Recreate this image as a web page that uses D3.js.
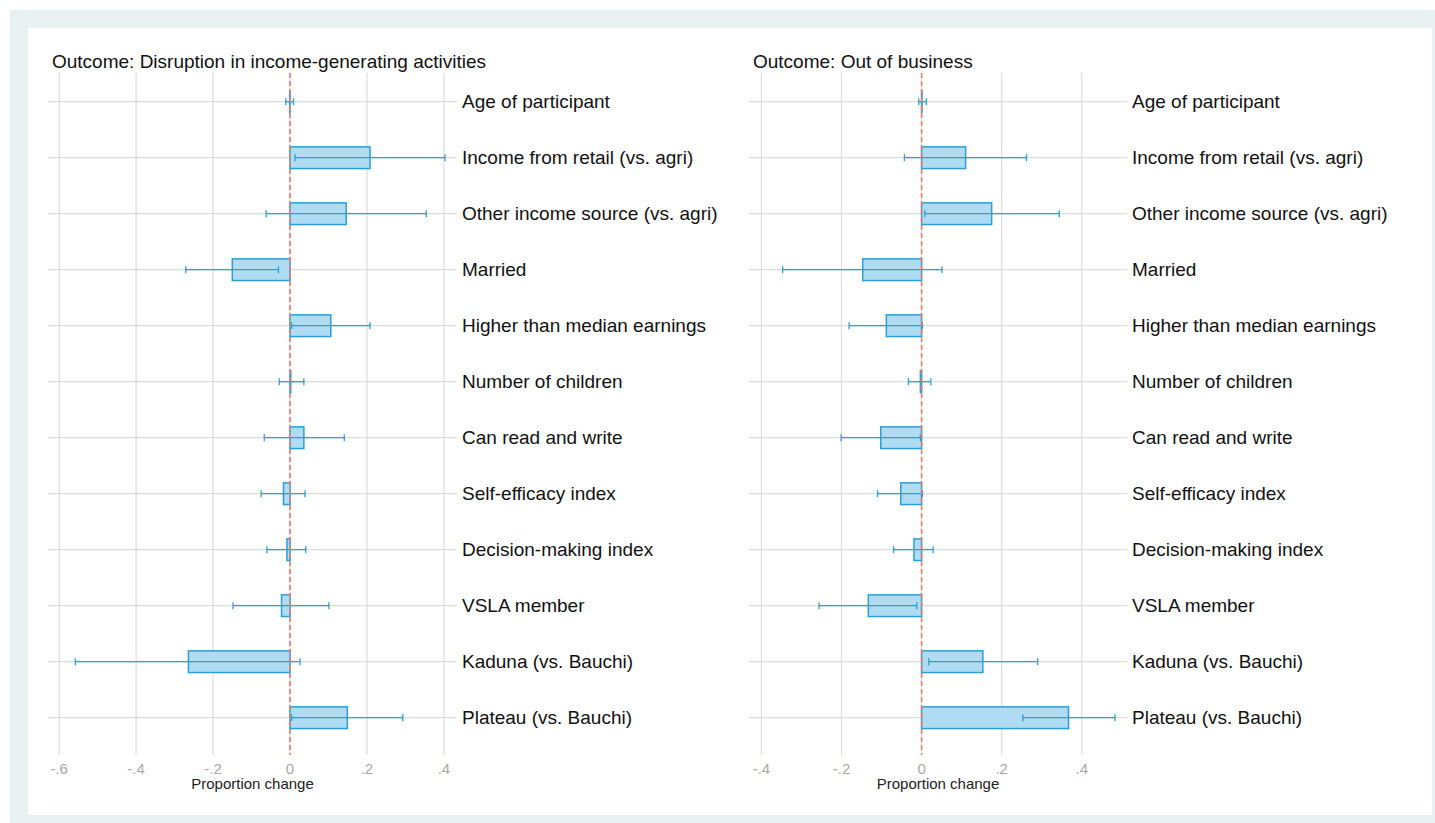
<!DOCTYPE html>
<html>
<meta charset="utf-8">
<script src="https://d3js.org/d3.v7.min.js"></script>
<style>
  body { margin: 0; background: #fff; }
  text { font-family: "Liberation Sans", Arial, sans-serif; }
</style>
<body>
<div id="my_dataviz"></div>
<script>

// row labels, top to bottom
var labels = ["Age of participant", "Income from retail (vs. agri)", "Other income source (vs. agri)",
  "Married", "Higher than median earnings", "Number of children", "Can read and write",
  "Self-efficacy index", "Decision-making index", "VSLA member", "Kaduna (vs. Bauchi)", "Plateau (vs. Bauchi)"];

// panel 1: disruption in income-generating activities
var est1 = [-0.001, 0.208, 0.146, -0.150, 0.106, 0.002, 0.036, -0.017, -0.008, -0.022, -0.264, 0.149];
var lo1  = [-0.011, 0.013, -0.062, -0.271, 0.004, -0.028, -0.067, -0.075, -0.060, -0.148, -0.558, 0.004];
var hi1  = [0.009, 0.403, 0.354, -0.030, 0.208, 0.036, 0.141, 0.039, 0.041, 0.101, 0.026, 0.293];

// panel 2: out of business
var est2 = [0.001, 0.110, 0.175, -0.147, -0.088, -0.003, -0.102, -0.052, -0.019, -0.133, 0.153, 0.367];
var lo2  = [-0.007, -0.043, 0.008, -0.347, -0.181, -0.033, -0.201, -0.110, -0.070, -0.256, 0.018, 0.253];
var hi2  = [0.012, 0.262, 0.344, 0.051, 0.002, 0.023, -0.003, 0.002, 0.029, -0.012, 0.290, 0.483];

var ticks1 = [-0.6, -0.4, -0.2, 0, 0.2, 0.4];
var ticks2 = [-0.4, -0.2, 0, 0.2, 0.4];

var W = 1435, H = 823;
var svg = d3.select("#my_dataviz").append("svg")
  .attr("width", W).attr("height", H);

// frame
svg.append("rect").attr("x", 10).attr("y", 10).attr("width", W - 10).attr("height", H - 10)
  .attr("fill", "#e9f0f2");
svg.append("rect").attr("x", 28).attr("y", 28).attr("width", 1404).attr("height", 787)
  .attr("fill", "#fff");

var y = d3.scalePoint().domain(labels).range([101.7, 717.7]);
var barH = 21.7;
var blue = "#2a9fd8";

// stata style: -.2, 0, .4
function fmt(v) {
  if (v === 0) return "0";
  return (v < 0 ? "-" : "") + Math.abs(v).toFixed(1).replace("0.", ".");
}

function panel(title, est, lo, hi, ticks, domain, range) {
  var x = d3.scaleLinear().domain(domain).range(range);
  var g = svg.append("g");
  var rows = labels.map(function(d, i) { return {label: d, est: est[i], lo: lo[i], hi: hi[i]}; });

  // vertical grid
  g.selectAll(".vg").data(ticks).enter().append("line")
    .attr("x1", function(d) { return x(d); }).attr("x2", function(d) { return x(d); })
    .attr("y1", 73).attr("y2", 755)
    .attr("stroke", "#dcdcdc").attr("stroke-width", 1.2);

  // horizontal grid
  g.selectAll(".hg").data(labels).enter().append("line")
    .attr("x1", range[0]).attr("x2", range[1])
    .attr("y1", function(d) { return y(d); }).attr("y2", function(d) { return y(d); })
    .attr("stroke", "#dcdcdc").attr("stroke-width", 1.2);

  // bars
  g.selectAll(".bar").data(rows).enter().append("rect")
    .attr("x", function(d) { return x(Math.min(0, d.est)); })
    .attr("y", function(d) { return y(d.label) - barH / 2; })
    .attr("width", function(d) { return Math.abs(x(d.est) - x(0)); })
    .attr("height", barH)
    .attr("fill", "#afdcf2").attr("stroke", blue).attr("stroke-width", 1.5);

  // confidence intervals
  g.selectAll(".ci").data(rows).enter().append("line")
    .attr("x1", function(d) { return x(d.lo); }).attr("x2", function(d) { return x(d.hi); })
    .attr("y1", function(d) { return y(d.label); }).attr("y2", function(d) { return y(d.label); })
    .attr("stroke", blue).attr("stroke-width", 1.3);
  ["lo", "hi"].forEach(function(k) {
    g.selectAll(".cap" + k).data(rows).enter().append("line")
      .attr("x1", function(d) { return x(d[k]); }).attr("x2", function(d) { return x(d[k]); })
      .attr("y1", function(d) { return y(d.label) - 3.5; }).attr("y2", function(d) { return y(d.label) + 3.5; })
      .attr("stroke", blue).attr("stroke-width", 1.3);
  });

  // zero reference
  g.append("line")
    .attr("x1", x(0)).attr("x2", x(0)).attr("y1", 73).attr("y2", 755)
    .attr("stroke", "#ef7a6a").attr("stroke-width", 1.6).attr("stroke-dasharray", "5,3");

  // row labels
  g.selectAll(".lab").data(labels).enter().append("text")
    .attr("x", range[1] + 5).attr("y", function(d) { return y(d); })
    .attr("dy", "0.35em").attr("font-size", "19px").attr("fill", "#111")
    .text(function(d) { return d; });

  // tick labels
  g.selectAll(".tk").data(ticks).enter().append("text")
    .attr("x", function(d) { return x(d); }).attr("y", 769)
    .attr("dy", "0.35em").attr("text-anchor", "middle")
    .attr("font-size", "15px").attr("fill", "#a8a8a8")
    .text(fmt);

  g.append("text")
    .attr("x", (range[0] + range[1]) / 2).attr("y", 784)
    .attr("dy", "0.35em").attr("text-anchor", "middle")
    .attr("font-size", "15px").attr("fill", "#222")
    .text("Proportion change");

  g.append("text")
    .attr("x", range[0] + 4).attr("y", 61).attr("dy", "0.35em")
    .attr("font-size", "19px").attr("fill", "#111")
    .text(title);
}

panel("Outcome: Disruption in income-generating activities", est1, lo1, hi1, ticks1, [-0.629, 0.434], [48, 457]);
panel("Outcome: Out of business", est2, lo2, hi2, ticks2, [-0.431, 0.513], [749, 1127]);

</script>
</body>
</html>
